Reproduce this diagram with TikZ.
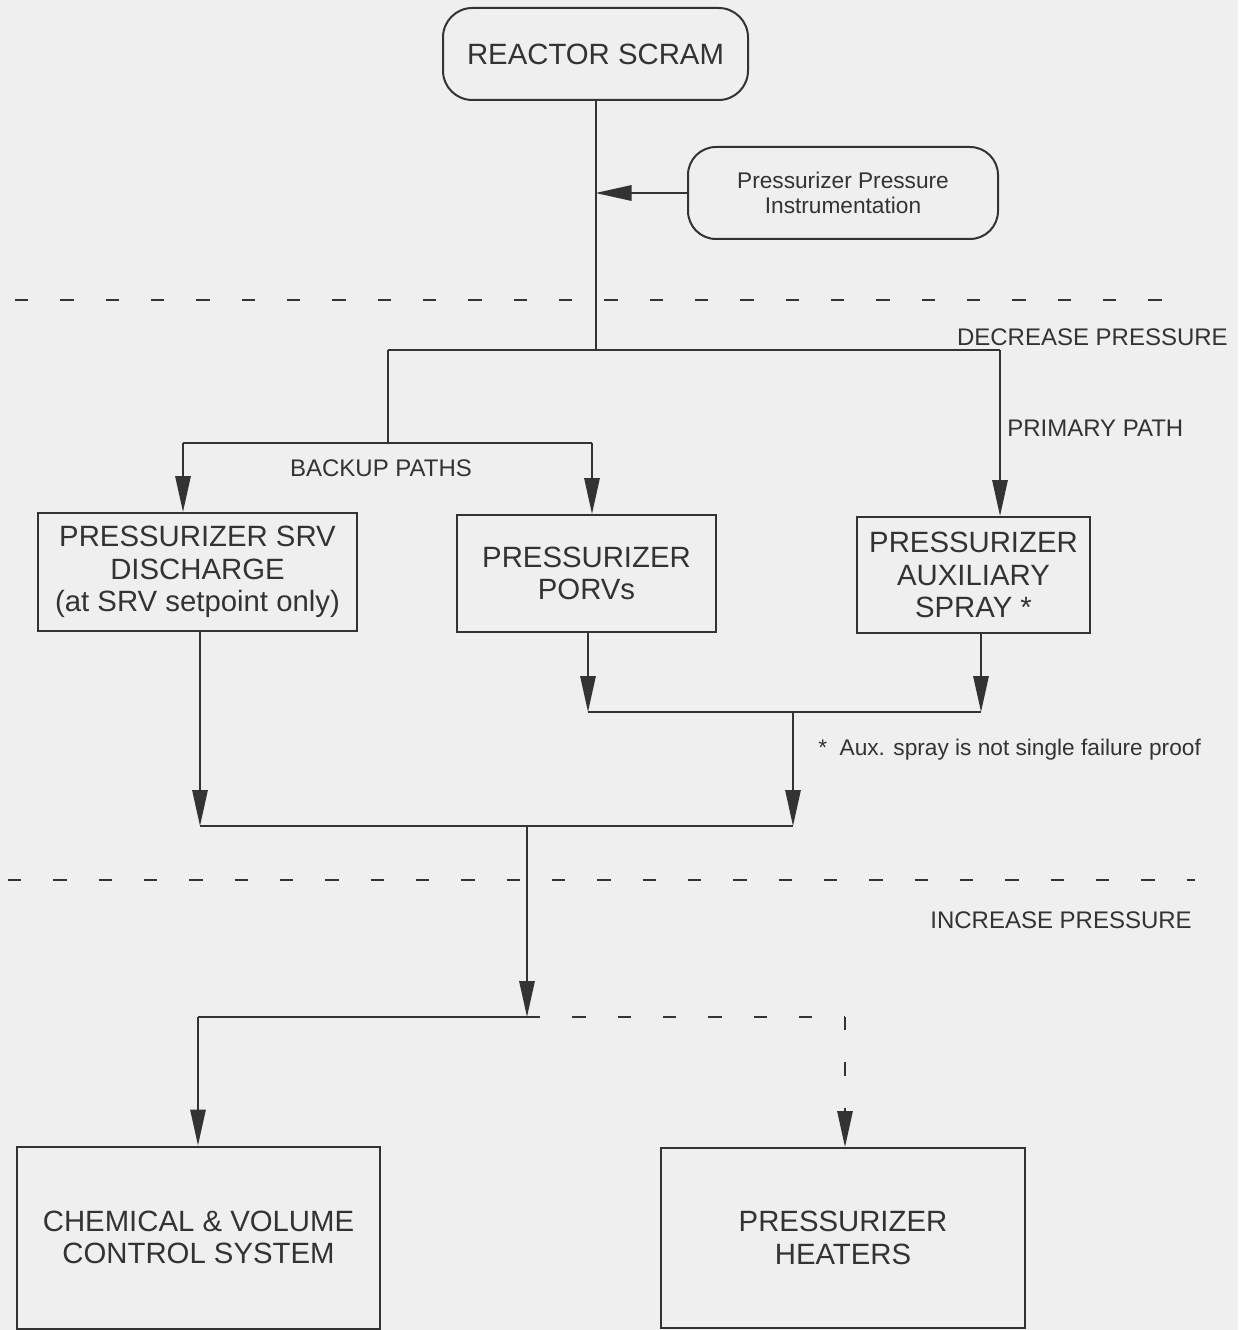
\documentclass[tikz,border=0pt]{standalone}
\usepackage{fontspec}
\setmainfont{Liberation Sans}
\usetikzlibrary{arrows.meta}
\definecolor{bg}{HTML}{EFEFEF}
\definecolor{ink}{HTML}{333333}
\begin{document}
\begin{tikzpicture}[x=0.75pt,y=-0.75pt,
  every node/.style={text=ink},
  box/.style={draw=ink, line width=1.5pt, align=center, inner sep=0pt, fill=bg,
    font=\fontsize{22}{24.4}\selectfont},
  rbox/.style={box, rounded corners=22pt},
  conn/.style={draw=ink, line width=1.5pt},
  arr/.style={conn, -{Triangle[length=27pt,width=11.5pt]}},
  sep/.style={draw=ink, line width=1.5pt, dash pattern=on 10pt off 24pt},
  dconn/.style={dash pattern=on 10pt off 24pt},
  lbl/.style={font=\fontsize{18}{20}\selectfont, inner sep=0pt}]
\fill[bg] (0,0) rectangle (1238,1330);
\useasboundingbox (0,0) rectangle (1238,1330);

% nodes
\node[rbox, minimum width=228.75pt, minimum height=69pt] (scram) at (595.5,54) {REACTOR SCRAM};
\node[rbox, minimum width=232.5pt, minimum height=69pt, rounded corners=21pt,
  font=\fontsize{17}{18.75}\selectfont] (inst) at (843,193) {Pressurizer Pressure\\Instrumentation};
\node[box, minimum width=239.25pt, minimum height=88.5pt] (srv) at (197.5,572) {PRESSURIZER SRV\\DISCHARGE\\(at SRV setpoint only)};
\node[box, minimum width=194.25pt, minimum height=87.75pt] (porv) at (586.5,573.5) {PRESSURIZER\\PORVs};
\node[box, minimum width=174.75pt, minimum height=87pt] (aux) at (973.5,575) {PRESSURIZER\\AUXILIARY\\SPRAY *};
\node[box, minimum width=272.25pt, minimum height=136.5pt] (cvcs) at (198.5,1237.5) {CHEMICAL \& VOLUME\\CONTROL SYSTEM};
\node[box, minimum width=273pt, minimum height=135pt] (heat) at (843,1238) {PRESSURIZER\\HEATERS};

% separators
\draw[sep] (15,300) -- (1175,300);
\draw[sep] (8,880) -- (1195,880);

% labels
\node[lbl, anchor=east] (dec) at (1228,337) {DECREASE PRESSURE};
\node[lbl, anchor=west] (prim) at (1007,428) {PRIMARY PATH};
\node[lbl] (back) at (381,468) {BACKUP PATHS};
\node[lbl, anchor=west, font=\fontsize{17}{18}\selectfont] (note) at (818,750) {*\ \ Aux. spray is not single failure proof};
\node[lbl, anchor=east] (inc) at (1192,920) {INCREASE PRESSURE};

% junction coordinates
\coordinate (instj) at (595.5,193);
\coordinate (top) at (595.5,350);
\coordinate (L1) at (388,350);
\coordinate (R1) at (1000,350);
\coordinate (bk) at (388,443);
\coordinate (bL) at (183,443);
\coordinate (bR) at (592,443);
\coordinate (m1L) at (588,712);
\coordinate (m1R) at (981,712);
\coordinate (m1M) at (793,712);
\coordinate (m2L) at (200,826);
\coordinate (m2R) at (793,826);
\coordinate (m2M) at (527,826);
\coordinate (m3M) at (527,1017);
\coordinate (m3L) at (198,1017);
\coordinate (m3R) at (845,1017);

% connectors
\draw[conn] (scram.south) -- (top);
\draw[arr] (inst.west) -- (instj);
\draw[conn] (L1) -- (R1);
\draw[arr] (R1) -- (R1 |- aux.north);
\draw[conn] (L1) -- (bk);
\draw[conn] (bL) -- (bR);
\draw[arr] (bL) -- (bL |- srv.north);
\draw[arr] (bR) -- (bR |- porv.north);
\draw[arr] (m1L |- porv.south) -- (m1L);
\draw[arr] (m1R |- aux.south) -- (m1R);
\draw[conn] (m1L) -- (m1R);
\draw[arr] (m1M) -- (m2R);
\draw[arr] (m2L |- srv.south) -- (m2L);
\draw[conn] (m2L) -- (m2R);
\draw[arr] (m2M) -- (m3M);
\draw[conn] (m3L) -- (m3M);
\draw[conn, dconn] (m3M) -- (m3R);
\draw[arr] (m3L) -- (m3L |- cvcs.north);
\draw[arr, dconn] (m3R) -- (m3R |- heat.north);
\end{tikzpicture}
\end{document}
